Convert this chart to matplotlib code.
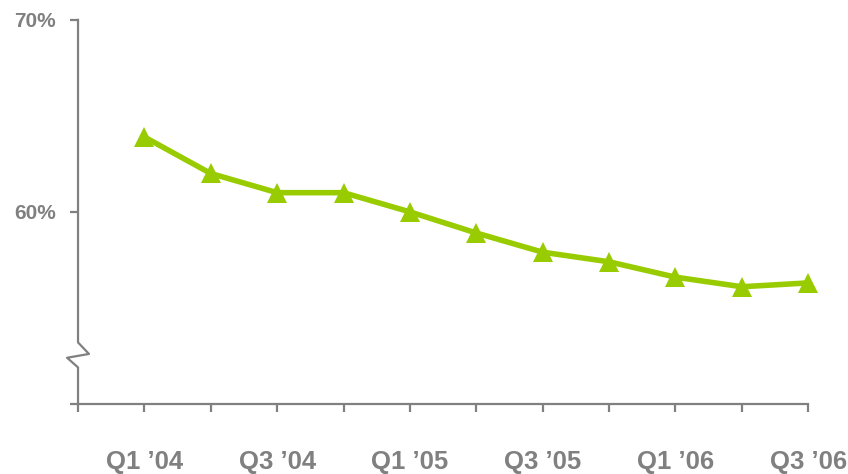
import matplotlib
matplotlib.use("Agg")
import matplotlib.pyplot as plt
from matplotlib.transforms import blended_transform_factory

# quarterly share, in percent
quarters = ["Q1 \u201904", "Q2 \u201904", "Q3 \u201904", "Q4 \u201904",
            "Q1 \u201905", "Q2 \u201905", "Q3 \u201905", "Q4 \u201905",
            "Q1 \u201906", "Q2 \u201906", "Q3 \u201906"]
share = [63.9, 62.0, 61.0, 61.0, 60.0, 58.9, 57.9, 57.4, 56.6, 56.1, 56.3]
y_ticks = [50, 60, 70]
y_labels = ["", "60%", "70%"]

gray = "#808080"
green = "#99CC00"

plt.rcParams["font.family"] = ["Liberation Sans", "DejaVu Sans"]
plt.rcParams["font.weight"] = "bold"

fig = plt.figure(figsize=(8.48, 4.74), dpi=100)
ax = fig.add_axes([0.092, 0.148, 0.861, 0.810])

xs = list(range(1, len(quarters) + 1))
ax.plot(xs, share, color=green, lw=4.0, marker="^", ms=14,
        markeredgewidth=0, clip_on=False, zorder=3)

ax.set_xlim(0, len(quarters))
ax.set_ylim(50, 70)

ax.set_xticks([0] + xs)
ax.set_xticklabels([""] + [q if i % 2 == 0 else "" for i, q in enumerate(quarters)])
ax.set_yticks(y_ticks)
ax.set_yticklabels(y_labels)

for s in ["top", "right", "left"]:
    ax.spines[s].set_visible(False)
ax.spines["bottom"].set_color(gray)
ax.spines["bottom"].set_linewidth(1.6)

ax.tick_params(axis="x", colors=gray, length=6, width=1.6, pad=27,
               labelsize=18.5)
ax.tick_params(axis="y", colors=gray, length=6, width=1.6, pad=10,
               labelsize=15)
for lab in ax.get_xticklabels() + ax.get_yticklabels():
    lab.set_fontweight("bold")

# left axis drawn by hand, with the break zigzag
tr = blended_transform_factory(ax.transAxes, ax.transData)
bx = [0, 0, 0.015, -0.015, 0, 0]
by = [70, 53.2, 52.6, 52.4, 51.9, 50]
ax.plot(bx, by, color=gray, lw=1.6, transform=tr, clip_on=False, zorder=2)

fig.savefig("out.png", dpi=100)
